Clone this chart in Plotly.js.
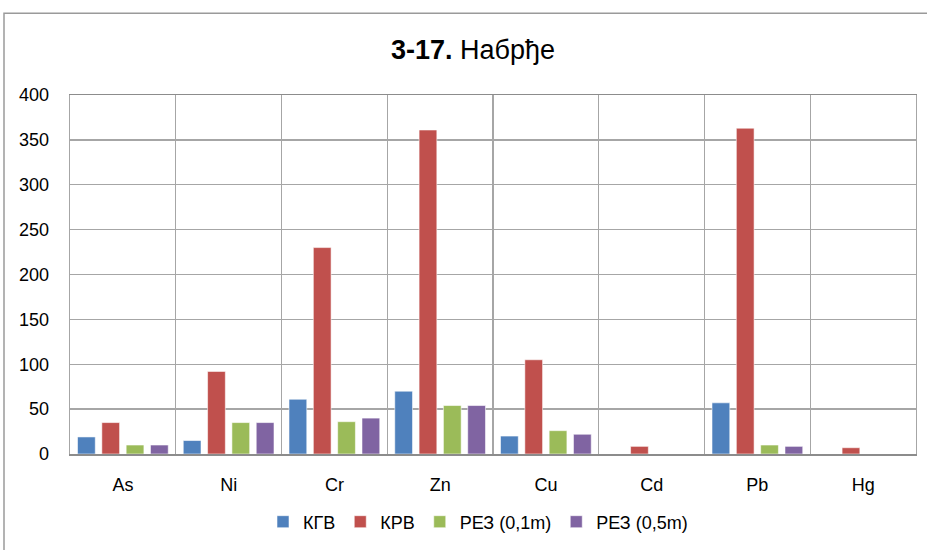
<!DOCTYPE html>
<html>
<head>
<meta charset="utf-8">
<script src="https://cdn.plot.ly/plotly-3.0.1.min.js"></script>
<style>html,body{margin:0;padding:0;background:#fff;}#chart{width:927px;height:550px;}</style>
</head>
<body>
<div id="chart"></div>
<script>
var categories = ["As", "Ni", "Cr", "Zn", "Cu", "Cd", "Pb", "Hg"];
var seriesNames = ["КГВ", "КРВ", "РЕЗ (0,1m)", "РЕЗ (0,5m)"];
var kgv   = [19, 15, 61, 70, 20, null, 57, null];
var krv   = [35, 92, 230, 361, 105, 8.5, 363, 7];
var rez01 = [10, 35, 36, 54, 26, null, 10, null];
var rez05 = [10, 35, 40, 54, 22, null, 8.5, null];
var yTicks = [0, 50, 100, 150, 200, 250, 300, 350, 400];
var colors = ["#4F81BD", "#C0504D", "#9BBB59", "#8064A2"];

var allSeries = [kgv, krv, rez01, rez05];
var font = "'Liberation Sans', Arial, sans-serif";
var traces = allSeries.map(function (vals, i) {
  return {
    type: "bar",
    name: seriesNames[i],
    x: categories,
    y: vals,
    marker: {color: colors[i], line: {color: "rgba(255,255,255,0.55)", width: 1}},
    hoverinfo: "x+y+name"
  };
});

var L = 70, R = 11, T = 95, B = 95, W = 927, H = 550;
var pw = W - L - R, ph = H - T - B;
function px(x) { return (x - L) / pw; }
function py(y) { return (H - B - y) / ph; }

var layout = {
  width: W, height: H,
  margin: {l: L, r: R, t: T, b: B, pad: 0},
  paper_bgcolor: "#ffffff",
  plot_bgcolor: "#ffffff",
  font: {family: font, size: 18, color: "#000"},
  title: {
    text: "<b>3-17.</b> Набрђе",
    font: {family: font, size: 27, color: "#000"},
    xref: "container", x: 473 / W, xanchor: "center",
    yref: "container", y: 1 - 50 / H, yanchor: "middle"
  },
  barmode: "group",
  bargap: 0.08,
  bargroupgap: 0.27,
  showlegend: true,
  legend: {
    orientation: "h",
    x: px(478), xanchor: "center",
    y: py(522), yanchor: "middle",
    font: {family: font, size: 18, color: "#000"},
    itemwidth: 30,
    bgcolor: "rgba(0,0,0,0)"
  },
  xaxis: {
    type: "category",
    categoryorder: "array",
    categoryarray: categories,
    tickson: "boundaries",
    showgrid: true,
    zeroline: false,
    gridcolor: "#a6a6a6",
    gridwidth: 1.3,
    showline: true,
    linecolor: "#8c8c8c",
    linewidth: 1.5,
    mirror: true,
    ticks: "",
    ticklabelstandoff: 14,
    tickfont: {family: font, size: 18, color: "#000"},
    fixedrange: true
  },
  yaxis: {
    range: [0, 400],
    tickmode: "array",
    tickvals: yTicks,
    ticktext: yTicks.map(String),
    showgrid: true,
    gridcolor: "#a6a6a6",
    gridwidth: 1.3,
    zeroline: false,
    showline: true,
    linecolor: "#a6a6a6",
    linewidth: 1.3,
    mirror: true,
    ticks: "",
    ticklabelstandoff: 16,
    tickfont: {family: font, size: 18, color: "#000"},
    fixedrange: true
  },
  shapes: [{
    type: "rect", xref: "paper", yref: "paper",
    x0: px(4), x1: px(945), y0: py(570), y1: py(13),
    line: {color: "#9a9a9a", width: 1.5},
    fillcolor: "rgba(0,0,0,0)", layer: "below"
  }]
};

Plotly.newPlot("chart", traces, layout, {displayModeBar: false, staticPlot: true});
</script>
</body>
</html>
